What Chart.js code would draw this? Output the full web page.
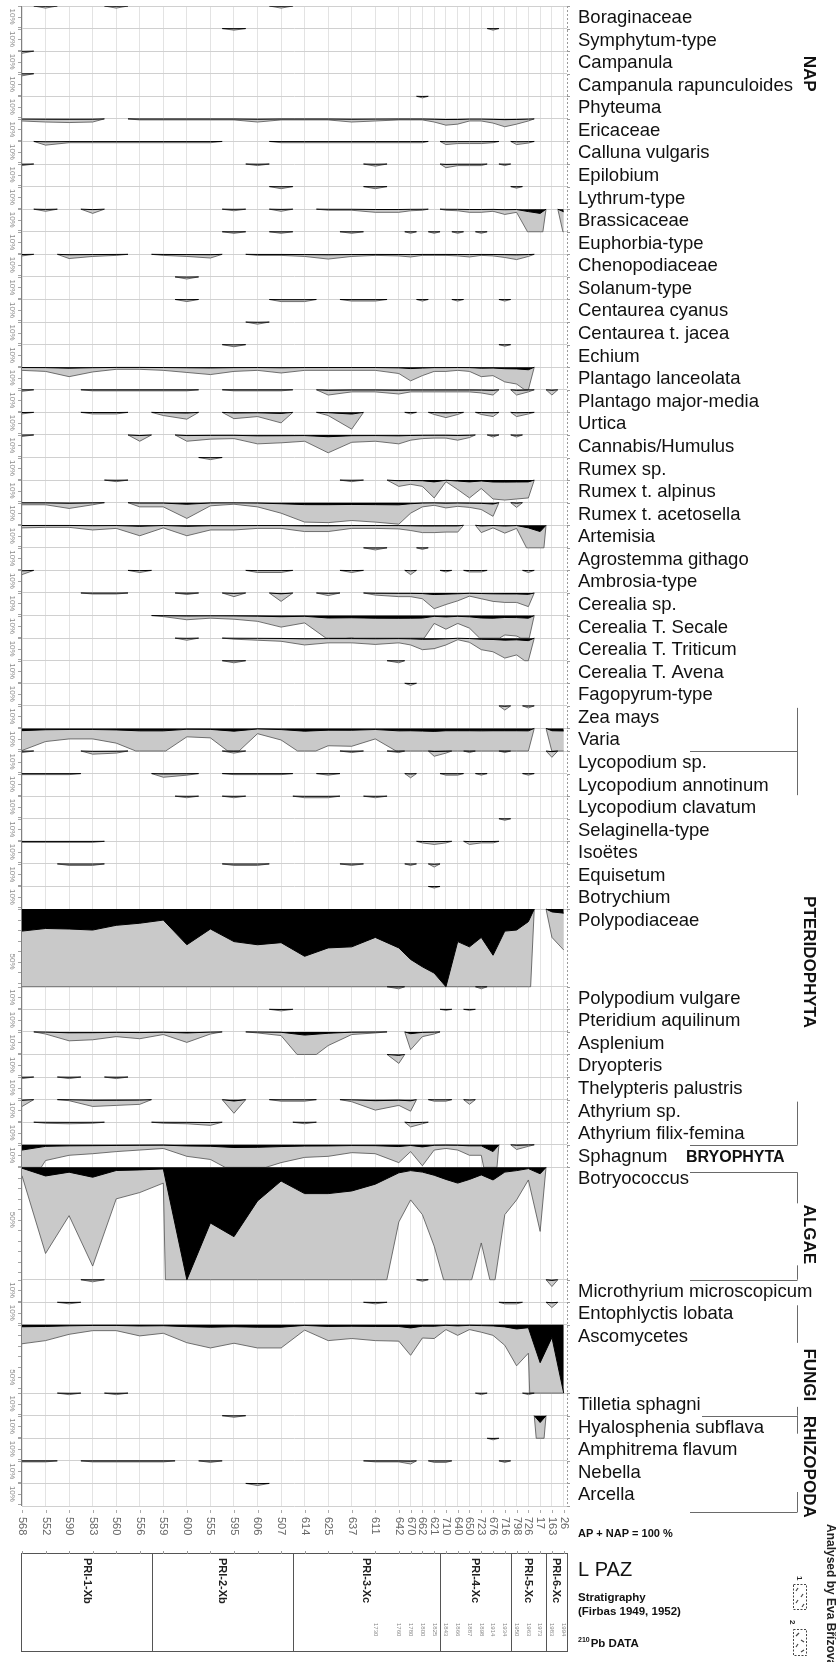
<!DOCTYPE html>
<html>
<head>
<meta charset="utf-8">
<title>Pollen diagram PRI</title>
<script src="https://cdn.jsdelivr.net/npm/chart.js@4.4.0/dist/chart.umd.min.js"></script>
<style>
  html, body { margin: 0; padding: 0; background: #fff; }
  canvas { display: block; }
</style>
</head>
<body>
<canvas id="pollenChart" width="839" height="1662"></canvas>
<script>
// Samples along the core (label and position on the sample axis)
const samples = ['568','552','590','583','560','556','559','600','555','595','606','507','614','625','637','611',
                 '642','670','662','621','710','640','650','723','676','716','798','726','17','163','26'];
const samplePosition = [0,1,2,3,4,5,6,7,8,9,10,11,12,13,14,15,16,
                        16.5,17,17.5,18,18.5,19,19.5,20,20.5,21,21.5,22,22.5,23];

// Local pollen assemblage zones (first sample of each zone)
const zones = ['PRI-1-Xb','PRI-2-Xb','PRI-3-Xc','PRI-4-Xc','PRI-5-Xc','PRI-6-Xc'];
const zoneFirstSample = [0, 6, 12, 20, 26, 29];

// 210Pb dates, from sample 15 upwards
const pbFirstSample = 15;
const pbDates = ['1730','1760','1780','1800','1825','1843','1866','1887','1898','1914','1934','1950','1963','1973','1983','1994'];

// Percentages (AP + NAP = 100 %), one value per sample
const boraginaceae = [0,.2,0,0,.2, 0,0,0,0,0, 0,.2,0,0,0, 0,0,0,0,0, 0,0,0,0,0, 0,0,0,0,0, 0];
const symphytum = [0,0,0,0,0, 0,0,0,0,.15, 0,0,0,0,0, 0,0,0,0,0, 0,0,0,0,.15, 0,0,0,0,0, 0];
const campanula = [.2,0,0,0,0, 0,0,0,0,0, 0,0,0,0,0, 0,0,0,0,0, 0,0,0,0,0, 0,0,0,0,0, 0];
const campanulaRapunculoides = [.2,0,0,0,0, 0,0,0,0,0, 0,0,0,0,0, 0,0,0,0,0, 0,0,0,0,0, 0,0,0,0,0, 0];
const phyteuma = [0,0,0,0,0, 0,0,0,0,0, 0,0,0,0,0, 0,0,0,.15,0, 0,0,0,0,0, 0,0,0,0,0, 0];
const ericaceae = [.2,.3,.35,.3,0, .1,.1,.1,.1,.1, .3,.1,.1,.1,.3, .2,.1,.1,.1,.3, .6,.5,.2,.2,.4, .75,.5,.2,0,0, 0];
const calluna = [0,.35,.12,.12,.12, .12,.12,.12,.12,0, 0,.12,.12,.12,.12, .12,.12,.12,.12,0, .3,.2,.2,.2,.12, 0,.3,.15,0,0, 0];
const epilobium = [.15,0,0,0,0, 0,0,0,0,0, .15,0,0,0,0, .2,0,0,0,0, .35,.15,.15,.15,0, .15,0,0,0,0, 0];
const lythrum = [0,0,0,0,0, 0,0,0,0,0, 0,.2,0,0,0, .2,0,0,0,0, 0,0,0,0,0, 0,.15,0,0,0, 0];
const brassicaceae = [0,.2,0,.4,0, 0,0,0,0,.15, 0,.2,0,.1,.1, .3,.3,.15,.1,0, .1,.15,.3,.3,.2, .5,.3,2.3,4,0, 2.5];
const euphorbia = [0,0,0,0,0, 0,0,0,0,.15, 0,.15,0,0,.15, 0,0,.15,0,.15, 0,.15,0,.15,0, 0,0,0,0,0, 0];
const chenopodiaceae = [.15,0,.4,.2,.1, 0,.1,.2,.35,0, .1,.1,.2,.45,.2, .1,.15,.25,.1,.1, .1,.15,.25,.1,.15, .3,.5,.2,0,0, 0];
const solanum = [0,0,0,0,0, 0,0,.2,0,0, 0,0,0,0,0, 0,0,0,0,0, 0,0,0,0,0, 0,0,0,0,0, 0];
const centaureaCyanus = [0,0,0,0,0, 0,0,.2,0,0, 0,.2,.2,0,.15, .15,0,0,.15,0, 0,.15,0,0,0, .15,0,0,0,0, 0];
const centaureaJacea = [0,0,0,0,0, 0,0,0,0,0, .2,0,0,0,0, 0,0,0,0,0, 0,0,0,0,0, 0,0,0,0,0, 0];
const echium = [0,0,0,0,0, 0,0,0,0,.2, 0,0,0,0,0, 0,0,0,0,0, 0,0,0,0,0, .15,0,0,0,0, 0];
const plantagoLanceolata = [.3,.4,.9,.45,.2, .2,.3,.5,.7,.4, .3,.55,.3,.3,.3, .3,.6,1.3,.8,.4, .4,.3,.4,.9,.8, 1.4,1.6,2.4,0,0, 0];
const plantagoMajor = [.15,0,0,.1,.1, .1,.1,.1,0,.1, .1,.1,0,.5,.2, .2,.4,.2,.2,.2, .2,.2,.2,.3,.5, 0,.5,.2,0,.5, 0];
const urtica = [.15,0,0,.15,.15, 0,.3,.65,0,.6, .4,1.0,0,.3,1.6, 0,0,.15,0,.2, .5,.2,0,.2,.4, 0,.4,.15,0,0, 0];
const cannabis = [.15,0,0,0,0, .6,0,.6,.4,.35, .85,.75,.6,1.7,.7, .6,.85,.5,.35,.3, .3,.5,.25,0,.2, 0,.2,0,0,0, 0];
const rumex = [0,0,0,0,0, 0,0,0,.2,0, 0,0,0,0,0, 0,0,0,0,0, 0,0,0,0,0, 0,0,0,0,0, 0];
const rumexAlpinus = [0,0,0,0,.15, 0,0,0,0,0, 0,0,0,0,.15, 0,.6,.4,.6,1.7, .15,.9,1.7,.8,1.8, 1.9,1.8,1.7,0,0, 0];
const rumexAcetosella = [.2,.2,.55,.2,0, .4,.4,1.5,.3,.15, .4,1.0,1.85,1.9,1.7, 1.85,2.05,1.0,.4,.25, .5,.35,.45,.65,1.3, 0,.45,0,0,0, 0];
const artemisia = [.25,.2,.2,.45,.3, 1.0,.25,1.0,.45,.45, .3,.3,.6,.6,.3, .3,.35,.5,.7,.7, .65,.65,0,.7,.25, .75,.3,2.5,6,0, 0];
const agrostemma = [0,0,0,0,0, 0,0,0,0,0, 0,0,0,0,0, .2,0,0,.15,0, 0,0,0,0,0, 0,0,0,0,0, 0];
const ambrosia = [.4,0,0,0,0, .2,0,0,0,0, .2,.2,0,0,.2, 0,0,.4,0,0, .15,0,.15,.15,0, 0,0,.2,0,0, 0];
const cerealia = [0,0,0,.1,.1, 0,0,.15,0,.35, 0,.8,0,.25,0, .2,.35,.35,.55,1.5, 1.1,.75,.3,.55,.8, .9,.9,1.3,0,0, 0];
const secale = [0,0,0,0,0, 0,.1,.4,.25,.35, .55,1.1,.7,2.3,2.1, 2.5,2.6,2.5,2.4,.75, 1.3,.75,1.2,2.3,2.5, 1.85,1.95,2.5,0,0, 0];
const triticum = [0,0,0,0,0, 0,0,.2,0,.1, .2,.3,.65,.45,.45, .6,.45,.65,1.1,1.0, .65,.15,.4,1.1,1.3, 1.9,1.6,2.4,0,0, 0];
const avena = [0,0,0,0,0, 0,0,0,0,.2, 0,0,0,0,0, 0,.2,0,0,0, 0,0,0,0,0, 0,0,0,0,0, 0];
const fagopyrum = [0,0,0,0,0, 0,0,0,0,0, 0,0,0,0,0, 0,0,.2,0,0, 0,0,0,0,0, 0,0,0,0,0, 0];
const zeaMays = [0,0,0,0,0, 0,0,0,0,0, 0,0,0,0,0, 0,0,0,0,0, 0,0,0,0,0, .4,0,.2,0,0, 0];
const varia = [2.1,1.25,1.0,1.0,1.4, 2.3,2.3,.8,.9,2.6, .5,1.1,2.6,1.65,1.7, 1.0,2.3,2.2,2.5,2.8, 2.2,2.2,2.2,2.3,2.2, 2.2,2.2,2.3,0,2.2, 2.4];
const lycopodium = [.15,0,0,.3,.2, 0,0,0,0,.2, 0,0,0,0,.15, 0,.15,0,0,.5, .2,0,.15,0,0, .15,0,0,0,.6, 0];
const lycopodiumAnnotinum = [.1,.1,.1,0,0, 0,.35,.15,0,.1, .1,.1,0,.15,0, 0,0,.4,0,0, .15,.15,0,.15,0, 0,0,.15,0,0, 0];
const lycopodiumClavatum = [0,0,0,0,0, 0,0,.15,0,.15, 0,0,.15,.15,0, .15,0,0,0,0, 0,0,0,0,0, 0,0,0,0,0, 0];
const selaginella = [0,0,0,0,0, 0,0,0,0,0, 0,0,0,0,0, 0,0,0,0,0, 0,0,0,0,0, .15,0,0,0,0, 0];
const isoetes = [.1,.1,.1,.1,0, 0,0,0,0,0, 0,0,0,0,0, 0,0,0,.15,.3, .15,0,.3,.15,.15, 0,0,0,0,0, 0];
const equisetum = [0,0,.15,.15,0, 0,0,0,0,.15, .15,0,0,0,.15, 0,0,.15,0,.3, 0,0,0,0,0, 0,0,0,0,0, 0];
const botrychium = [0,0,0,0,0, 0,0,0,0,0, 0,0,0,0,0, 0,0,0,0,.15, 0,0,0,0,0, 0,0,0,0,0, 0];
const polypodiaceae = [21,18.5,19,20,15.5, 13.5,10.5,34,19,31, 34,32,45,37,36, 27,37,48,55,61, 74,31,36,27,44, 21,20,12,0,2.7, 3.9];
const polypodiumVulgare = [0,0,0,0,0, 0,0,0,0,0, 0,0,0,0,0, 0,.2,0,0,0, 0,0,0,.2,0, 0,0,0,0,0, 0];
const pteridium = [0,0,0,0,0, 0,0,0,0,0, 0,.15,0,0,0, 0,0,0,0,0, .1,0,.1,0,0, 0,0,0,0,0, 0];
const asplenium = [0,.2,.85,.75,.45, .65,.25,1.0,.2,0, .1,.35,3.0,1.3,.25, .1,0,1.7,.45,.2, 0,0,0,0,0, 0,0,0,0,0, 0];
const dryopteris = [0,0,0,0,0, 0,0,0,0,0, 0,0,0,0,0, 0,.85,0,0,0, 0,0,0,0,0, 0,0,0,0,0, 0];
const thelypteris = [.15,0,.15,0,.15, 0,0,0,0,0, 0,0,0,0,0, 0,0,0,0,0, 0,0,0,0,0, 0,0,0,0,0, 0];
const athyrium = [.65,0,.1,.65,.55, .45,0,0,0,1.3, 0,.15,.15,0,.2, 1.0,.55,1.1,0,.15, .15,0,.45,0,0, 0,0,0,0,0, 0];
const athyriumFilixFemina = [0,.1,.15,.1,0, 0,.1,.15,.3,0, 0,0,.15,0,0, 0,0,.45,.15,0, 0,0,0,0,0, 0,0,0,0,0, 0];
const sphagnum = [5,1.5,1.0,.85,.65, .5,.35,1.1,1.4,2.6, 2.4,1.7,1.2,1.1,.75, .85,1.7,.65,2.0,.5, .35,.5,1.0,1.0,6.5, 0,.45,.15,0,0, 0];
const botryococcus = [.8,8.2,4.6,9.4,3.0, 2.4,1.5,107,53,66, 32,13,25,25,22.5, 16,5.2,3.1,4.5,7.5, 11.5,15,11.5,7.2,12, 4.5,3.1,1.2,6.1,0, 0];
const microthyrium = [0,0,0,.2,0, 0,0,0,0,0, 0,0,0,0,0, 0,0,0,.15,0, 0,0,0,0,0, 0,0,0,0,.65, 0];
const entophlyctis = [0,0,.15,0,0, 0,0,0,0,0, 0,0,0,0,0, .15,0,0,0,0, 0,0,0,0,0, .15,.15,0,0,.5, 0];
const ascomycetes = [1.8,1.5,.9,.55,.55, 1.05,.8,1.7,2.2,1.75, 2.2,2.2,.5,1.5,1.3, 1.5,1.55,2.9,1.25,1.3, .45,1.0,.45,.7,1.0, 1.95,3.9,2.7,36,12, 65];
const tilletia = [0,0,.15,0,.15, 0,0,0,0,0, 0,0,0,0,0, 0,0,0,0,0, 0,0,0,.15,0, 0,0,.15,0,0, 0];
const hyalosphenia = [0,0,0,0,0, 0,0,0,0,.15, 0,0,0,0,0, 0,0,0,0,0, 0,0,0,0,0, 0,0,0,6.5,0, 0];
const amphitrema = [0,0,0,0,0, 0,0,0,0,0, 0,0,0,0,0, 0,0,0,0,0, 0,0,0,0,.15, 0,0,0,0,0, 0];
const nebella = [.1,.1,0,.1,.1, .1,.1,0,.15,0, 0,0,0,0,0, .1,.1,.3,0,.15, .15,0,0,0,0, .15,0,0,0,0, 0];
const arcella = [0,0,0,0,0, 0,0,0,0,0, .2,0,0,0,0, 0,0,0,0,0, 0,0,0,0,0, 0,0,0,0,0, 0];

const taxa = [
  ['Boraginaceae', boraginaceae], ['Symphytum-type', symphytum], ['Campanula', campanula],
  ['Campanula rapunculoides', campanulaRapunculoides], ['Phyteuma', phyteuma], ['Ericaceae', ericaceae],
  ['Calluna vulgaris', calluna], ['Epilobium', epilobium], ['Lythrum-type', lythrum],
  ['Brassicaceae', brassicaceae], ['Euphorbia-type', euphorbia], ['Chenopodiaceae', chenopodiaceae],
  ['Solanum-type', solanum], ['Centaurea cyanus', centaureaCyanus], ['Centaurea t. jacea', centaureaJacea],
  ['Echium', echium], ['Plantago lanceolata', plantagoLanceolata], ['Plantago major-media', plantagoMajor],
  ['Urtica', urtica], ['Cannabis/Humulus', cannabis], ['Rumex sp.', rumex],
  ['Rumex t. alpinus', rumexAlpinus], ['Rumex t. acetosella', rumexAcetosella], ['Artemisia', artemisia],
  ['Agrostemma githago', agrostemma], ['Ambrosia-type', ambrosia], ['Cerealia sp.', cerealia],
  ['Cerealia T. Secale', secale], ['Cerealia T. Triticum', triticum], ['Cerealia T. Avena', avena],
  ['Fagopyrum-type', fagopyrum], ['Zea mays', zeaMays], ['Varia', varia],
  ['Lycopodium sp.', lycopodium], ['Lycopodium annotinum', lycopodiumAnnotinum], ['Lycopodium clavatum', lycopodiumClavatum],
  ['Selaginella-type', selaginella], ['Isoëtes', isoetes], ['Equisetum', equisetum],
  ['Botrychium', botrychium], ['Polypodiaceae', polypodiaceae], ['Polypodium vulgare', polypodiumVulgare],
  ['Pteridium aquilinum', pteridium], ['Asplenium', asplenium], ['Dryopteris', dryopteris],
  ['Thelypteris palustris', thelypteris], ['Athyrium sp.', athyrium], ['Athyrium filix-femina', athyriumFilixFemina],
  ['Sphagnum', sphagnum], ['Botryococcus', botryococcus], ['Microthyrium microscopicum', microthyrium],
  ['Entophlyctis lobata', entophlyctis], ['Ascomycetes', ascomycetes], ['Tilletia sphagni', tilletia],
  ['Hyalosphenia subflava', hyalosphenia], ['Amphitrema flavum', amphitrema], ['Nebella', nebella],
  ['Arcella', arcella]
];

const EXAGGERATION = 10;   // grey silhouette = 10x the value
const MIN_ROW = 21.5;      // smallest band, in percent units

// every band is as deep as its maximum (or the minimum band)
const rowHeight = taxa.map(t => Math.max(MIN_ROW, ...t[1]));
const rowTop = [];
let depth = 0;
rowHeight.forEach(h => { rowTop.push(depth); depth += h; });
const totalDepth = depth;

// runs of consecutive non-zero samples
function runsOf(values) {
  const out = [];
  let cur = null;
  values.forEach((v, i) => {
    if (v > 0) { if (!cur) { cur = []; out.push(cur); } cur.push(i); }
    else cur = null;
  });
  return out;
}

// silhouette points: each run tapers to zero half-way to its zero neighbours,
// values deeper than the band are cut at the band bottom
function silhouette(values, top, height, factor) {
  const pts = [];
  runsOf(values).forEach((run, r) => {
    const first = run[0], last = run[run.length - 1];
    if (r > 0) pts.push({ x: samplePosition[first - 1], y: null });
    const seq = [];
    if (first > 0) seq.push({ x: (samplePosition[first - 1] + samplePosition[first]) / 2, e: 0 });
    run.forEach(i => seq.push({ x: samplePosition[i], e: values[i] * factor }));
    if (last < values.length - 1) seq.push({ x: (samplePosition[last] + samplePosition[last + 1]) / 2, e: 0 });
    seq.forEach((p, k) => {
      if (k > 0) {
        const q = seq[k - 1];
        if ((q.e - height) * (p.e - height) < 0) {
          const t = (height - q.e) / (p.e - q.e);
          pts.push({ x: q.x + t * (p.x - q.x), y: top + height });
        }
      }
      pts.push({ x: p.x, y: top + Math.min(p.e, height) });
    });
  });
  return pts;
}

const datasets = [];
taxa.forEach(([name, values], k) => {
  datasets.push({
    label: name + ' x10',
    data: silhouette(values, rowTop[k], rowHeight[k], EXAGGERATION),
    borderColor: '#505050', borderWidth: 0.8, backgroundColor: '#c9c9c9',
    fill: { value: rowTop[k] }, order: 1
  });
  datasets.push({
    label: name,
    data: silhouette(values, rowTop[k], rowHeight[k], 1),
    borderColor: '#000', borderWidth: 1, backgroundColor: '#000',
    fill: { value: rowTop[k] }, order: 0
  });
});

const FONT = '"Liberation Sans", Arial, sans-serif';

function vtext(ctx, text, x, y, font, color, align) {
  ctx.save();
  ctx.translate(x, y);
  ctx.rotate(Math.PI / 2);
  ctx.font = font;
  ctx.fillStyle = color;
  ctx.textAlign = align || 'left';
  ctx.textBaseline = 'middle';
  ctx.fillText(text, 0, 0);
  ctx.restore();
}

function seg(ctx, x1, y1, x2, y2) {
  ctx.beginPath();
  ctx.moveTo(x1, y1);
  ctx.lineTo(x2, y2);
  ctx.stroke();
}

// axes, labels, zones and group brackets
const annotate = {
  id: 'annotate',
  afterDraw(chart) {
    const { ctx, chartArea: a, scales: { x, y } } = chart;
    const rowPx = k => y.getPixelForValue(k < rowTop.length ? rowTop[k] : totalDepth);
    const sx = i => x.getPixelForValue(samplePosition[i]);
    const midX = i => x.getPixelForValue((samplePosition[i - 1] + samplePosition[i]) / 2);
    ctx.save();
    ctx.lineWidth = 1;

    // left axis: ticks every 10 % and the scale mark of each band
    ctx.strokeStyle = '#808080';
    seg(ctx, a.left - 0.5, a.top, a.left - 0.5, a.bottom);
    ctx.strokeStyle = '#a5a5a5';
    taxa.forEach((t, k) => {
      for (let v = 0; v < rowHeight[k] - 1; v += 10) {
        const py = Math.round(y.getPixelForValue(rowTop[k] + v)) + 0.5;
        seg(ctx, a.left - 4, py, a.left - 1, py);
      }
      const mark = rowHeight[k] >= 50 ? 50 : 10;
      vtext(ctx, mark + '%', 12, y.getPixelForValue(rowTop[k] + mark), '8px ' + FONT, '#8c8c8c', 'center');
    });

    // right edge
    ctx.strokeStyle = '#9a9a9a';
    ctx.setLineDash([2, 2]);
    seg(ctx, a.right + 0.5, a.top, a.right + 0.5, a.bottom);
    ctx.setLineDash([]);
    for (let k = 0; k <= taxa.length; k++) {
      const py = Math.round(rowPx(k)) + 0.5;
      seg(ctx, a.right, py, a.right + 3, py);
    }

    // sample axis
    samples.forEach((s, i) => {
      const px = Math.round(sx(i)) + 0.5;
      ctx.strokeStyle = '#aaaaaa';
      seg(ctx, px, a.bottom + 4, px, a.bottom + 7);
      vtext(ctx, s, sx(i), a.bottom + 11, '11px ' + FONT, '#666', 'left');
    });

    // zone box
    const boxTop = 1553, boxBottom = 1651;
    ctx.strokeStyle = '#555';
    ctx.strokeRect(a.left - 0.5, boxTop + 0.5, a.right - a.left + 1, boxBottom - boxTop);
    ctx.strokeStyle = '#999';
    samples.forEach((s, i) => {
      const px = Math.round(sx(i)) + 0.5;
      seg(ctx, px, boxTop - 2, px, boxTop + 1);
    });
    ctx.strokeStyle = '#555';
    zones.forEach((z, n) => {
      const x0 = n === 0 ? a.left : midX(zoneFirstSample[n]);
      const x1 = n === zones.length - 1 ? a.right : midX(zoneFirstSample[n + 1]);
      if (n > 0) seg(ctx, Math.round(x0) + 0.5, boxTop, Math.round(x0) + 0.5, boxBottom);
      vtext(ctx, z, (x0 + x1) / 2, boxTop + 5, 'bold 11px ' + FONT, '#222', 'left');
    });
    pbDates.forEach((d, j) => vtext(ctx, d, sx(pbFirstSample + j), 1623, '6px ' + FONT, '#888', 'left'));

    // taxon names
    ctx.fillStyle = '#111';
    ctx.font = '18.5px ' + FONT;
    ctx.textAlign = 'left';
    ctx.textBaseline = 'alphabetic';
    taxa.forEach((t, k) => ctx.fillText(t[0], 578, rowPx(k) + 17));

    // ecological groups
    const GX = 809, BX = 797.5, HX = 690;
    const bold = 'bold 17px ' + FONT;
    ctx.strokeStyle = '#6a6a6a';
    vtext(ctx, 'NAP', GX, (rowPx(2) + rowPx(4)) / 2, bold, '#111', 'center');

    seg(ctx, BX, rowPx(31) + 2, BX, rowPx(35) - 1);
    seg(ctx, HX, Math.round(rowPx(33)) + 0.5, BX, Math.round(rowPx(33)) + 0.5);
    vtext(ctx, 'PTERIDOPHYTA', GX, rowPx(40) + 53, bold, '#111', 'center');

    seg(ctx, BX, rowPx(46) + 2, BX, rowPx(48));
    seg(ctx, HX, Math.round(rowPx(48)) + 0.5, BX, Math.round(rowPx(48)) + 0.5);
    ctx.font = 'bold 16px ' + FONT;
    ctx.fillText('BRYOPHYTA', 686, rowPx(48) + 17);

    const b = rowPx(49);
    seg(ctx, HX, Math.round(b) + 5.5, BX, Math.round(b) + 5.5);
    seg(ctx, BX, b + 5, BX, b + 36);
    vtext(ctx, 'ALGAE', GX, b + 67, bold, '#111', 'center');
    seg(ctx, BX, b + 98, BX, rowPx(50));
    seg(ctx, HX, Math.round(rowPx(50)) + 0.5, BX, Math.round(rowPx(50)) + 0.5);

    seg(ctx, BX, rowPx(51) + 3, BX, rowPx(52) + 18);
    vtext(ctx, 'FUNGI', GX, rowPx(52) + 50, bold, '#111', 'center');
    seg(ctx, BX, rowPx(52) + 82, BX, rowPx(54));
    seg(ctx, 702, Math.round(rowPx(54)) + 0.5, BX, Math.round(rowPx(54)) + 0.5);

    seg(ctx, BX, rowPx(54), BX, rowPx(54) + 18);
    vtext(ctx, 'RHIZOPODA', GX, rowPx(54) + 51, bold, '#111', 'center');
    seg(ctx, BX, a.bottom - 14, BX, a.bottom + 6);
    seg(ctx, HX, a.bottom + 6.5, BX, a.bottom + 6.5);

    // legend texts
    ctx.fillStyle = '#111';
    ctx.font = 'bold 11px ' + FONT;
    ctx.fillText('AP + NAP = 100 %', 578, 1537);
    ctx.font = '20px ' + FONT;
    ctx.fillText('L PAZ', 578, 1576);
    ctx.font = 'bold 11.5px ' + FONT;
    ctx.fillText('Stratigraphy', 578, 1601);
    ctx.fillText('(Firbas 1949, 1952)', 578, 1615);
    ctx.font = 'bold 7px ' + FONT;
    ctx.fillText('210', 578, 1642);
    const w = ctx.measureText('210').width;
    ctx.font = 'bold 11.5px ' + FONT;
    ctx.fillText('Pb DATA', 578 + w + 1, 1647);
    vtext(ctx, 'Analysed by Eva Břízová', 830, 1524, 'bold 12px ' + FONT, '#222', 'left');

    // stratigraphy symbols
    ctx.strokeStyle = '#444';
    ctx.setLineDash([2, 1.5]);
    ctx.strokeRect(793.5, 1584.5, 13, 25);
    ctx.strokeRect(793.5, 1629.5, 13, 26);
    ctx.setLineDash([]);
    ctx.lineWidth = 1.2;
    [[796, 1591, 798, 1588], [801, 1597, 803, 1594], [796, 1603, 798, 1600], [802, 1607, 804, 1604],
     [796, 1636, 799, 1633], [801, 1640, 804, 1642], [796, 1647, 798, 1644], [801, 1652, 804, 1650]]
      .forEach(l => seg(ctx, l[0], l[1], l[2], l[3]));
    vtext(ctx, '1', 799, 1576, 'bold 8px ' + FONT, '#222', 'left');
    vtext(ctx, '2', 792, 1620, 'bold 8px ' + FONT, '#222', 'left');
    ctx.restore();
  }
};

Chart.defaults.font.family = FONT;

new Chart(document.getElementById('pollenChart').getContext('2d'), {
  type: 'line',
  data: { datasets },
  options: {
    responsive: false,
    devicePixelRatio: 1,
    animation: false,
    events: [],
    layout: { padding: { left: 22, top: 6, right: 272, bottom: 156 } },
    elements: {
      point: { radius: 0 },
      line: { tension: 0, borderJoinStyle: 'miter' }
    },
    spanGaps: false,
    plugins: { legend: { display: false }, tooltip: { enabled: false } },
    scales: {
      x: {
        type: 'linear', min: 0, max: 23.14,
        ticks: { display: false }, border: { display: false },
        grid: { color: '#e3e3e3', drawTicks: false },
        afterBuildTicks: s => { s.ticks = samplePosition.map(v => ({ value: v })); }
      },
      y: {
        type: 'linear', reverse: true, min: 0, max: totalDepth,
        ticks: { display: false }, border: { display: false },
        grid: { color: '#d0d0d0', drawTicks: false },
        afterBuildTicks: s => { s.ticks = rowTop.concat([totalDepth]).map(v => ({ value: v })); }
      }
    }
  },
  plugins: [annotate]
});
</script>
</body>
</html>
